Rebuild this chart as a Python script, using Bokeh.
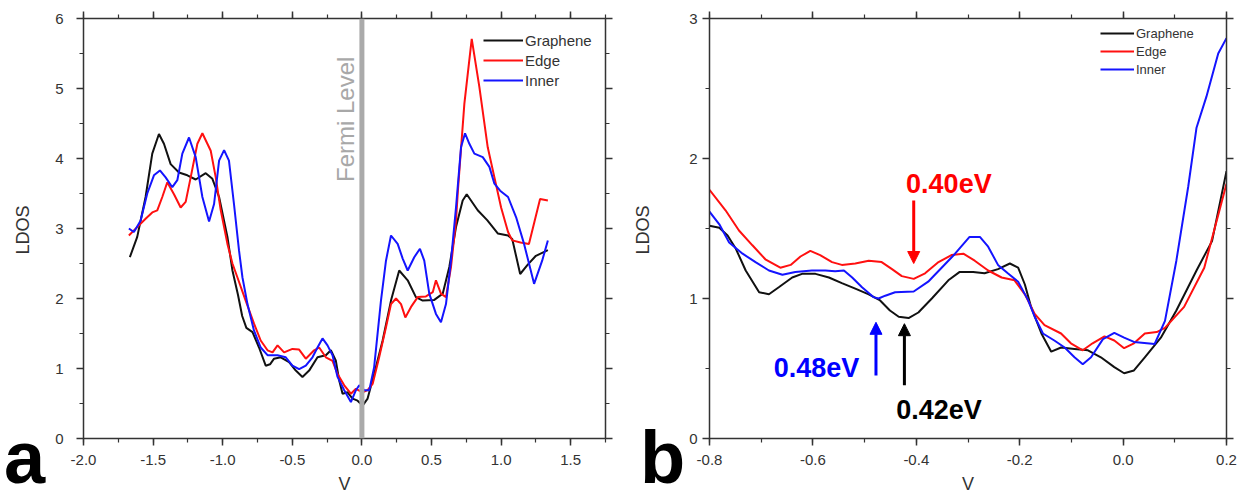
import math
from bokeh.plotting import figure
from bokeh.models import (Range1d, LinearAxis, SingleIntervalTicker, Span, Label, Div,
                          Arrow, NormalHead, Legend, LegendItem, NumeralTickFormatter,
                          CustomJSTickFormatter)
from bokeh.layouts import row
from bokeh.embed import file_html
from bokeh.resources import INLINE

# ---------------- data: panel a ----------------
graphene_a_x = [-1.667, -1.614, -1.554, -1.506, -1.458, -1.422, -1.374, -1.314, -1.254, -1.194,
                -1.122, -1.074, -1.026, -0.966, -0.93, -0.89, -0.86, -0.83, -0.786, -0.739,
                -0.691, -0.66, -0.631, -0.583, -0.523, -0.475, -0.427, -0.379, -0.319, -0.259,
                -0.223, -0.187, -0.163, -0.139, -0.103, -0.067, -0.031, 0.005, 0.041, 0.088,
                0.149, 0.209, 0.268, 0.329, 0.388, 0.437, 0.52, 0.581, 0.628, 0.676,
                0.724, 0.753, 0.832, 0.9, 0.976, 1.05, 1.08, 1.137, 1.19, 1.25, 1.336]
graphene_a_y = [2.59, 2.88, 3.45, 4.07, 4.35, 4.21, 3.92, 3.80, 3.76, 3.70,
                3.79, 3.71, 3.45, 2.88, 2.40, 2.05, 1.75, 1.58, 1.52, 1.30,
                1.04, 1.06, 1.14, 1.16, 1.09, 0.97, 0.88, 0.97, 1.16, 1.19,
                1.26, 1.11, 0.83, 0.64, 0.66, 0.57, 0.54, 0.47, 0.57, 0.92,
                1.40, 1.97, 2.40, 2.26, 2.02, 1.97, 1.98, 2.07, 2.45, 3.02,
                3.40, 3.49, 3.26, 3.12, 2.93, 2.90, 2.85, 2.35, 2.48, 2.61, 2.69]

edge_a_x = [-1.674, -1.614, -1.554, -1.506, -1.47, -1.434, -1.398, -1.35, -1.302, -1.266,
            -1.23, -1.182, -1.146, -1.086, -1.05, -1.014, -0.966, -0.93, -0.894, -0.835,
            -0.775, -0.727, -0.678, -0.642, -0.606, -0.559, -0.499, -0.451, -0.403, -0.343,
            -0.307, -0.259, -0.211, -0.175, -0.127, -0.079, -0.043, 0.005, 0.041, 0.077,
            0.124, 0.173, 0.209, 0.245, 0.281, 0.312, 0.353, 0.401, 0.46, 0.509,
            0.532, 0.568, 0.604, 0.64, 0.676, 0.69, 0.736, 0.789, 0.844, 0.904,
            0.952, 1.0, 1.05, 1.08, 1.14, 1.2, 1.24, 1.28, 1.336]
edge_a_y = [2.90, 3.02, 3.14, 3.23, 3.26, 3.45, 3.66, 3.49, 3.30, 3.38,
            3.73, 4.21, 4.36, 4.11, 3.73, 3.26, 2.78, 2.50, 2.30, 1.97,
            1.64, 1.40, 1.26, 1.23, 1.33, 1.23, 1.28, 1.27, 1.14, 1.26,
            1.30, 1.16, 1.11, 0.92, 0.76, 0.64, 0.71, 0.66, 0.69, 0.78,
            1.16, 1.59, 1.92, 2.00, 1.92, 1.73, 1.88, 2.02, 2.03, 2.09,
            2.26, 2.07, 2.02, 2.45, 3.11, 3.55, 4.78, 5.71, 5.02, 4.16,
            3.73, 3.30, 2.95, 2.83, 2.80, 2.78, 3.10, 3.42, 3.40]

inner_a_x = [-1.674, -1.638, -1.59, -1.542, -1.494, -1.451, -1.41, -1.362, -1.326, -1.29,
             -1.242, -1.194, -1.146, -1.098, -1.062, -1.026, -0.99, -0.955, -0.919, -0.883,
             -0.858, -0.822, -0.775, -0.727, -0.678, -0.606, -0.547, -0.499, -0.451, -0.403,
             -0.355, -0.319, -0.283, -0.247, -0.211, -0.175, -0.127, -0.079, -0.043, -0.019,
             0.017, 0.053, 0.088, 0.137, 0.173, 0.209, 0.257, 0.293, 0.329, 0.376,
             0.417, 0.448, 0.484, 0.532, 0.568, 0.604, 0.64, 0.676, 0.712, 0.741,
             0.772, 0.808, 0.868, 0.916, 0.952, 0.993, 1.05, 1.108, 1.165, 1.237, 1.295, 1.336]
inner_a_y = [3.00, 2.95, 3.11, 3.50, 3.76, 3.83, 3.73, 3.59, 3.69, 4.07,
             4.30, 4.02, 3.45, 3.10, 3.35, 3.97, 4.12, 3.97, 3.35, 2.69,
             2.30, 1.92, 1.54, 1.30, 1.19, 1.19, 1.16, 1.04, 0.99, 1.04,
             1.16, 1.30, 1.43, 1.33, 1.19, 0.88, 0.69, 0.52, 0.69, 0.76,
             0.69, 0.69, 1.02, 1.97, 2.54, 2.90, 2.78, 2.57, 2.40, 2.59,
             2.71, 2.54, 2.07, 1.78, 1.66, 1.92, 2.54, 3.30, 4.16, 4.36,
             4.21, 4.07, 4.02, 3.88, 3.64, 3.54, 3.45, 3.16, 2.78, 2.21, 2.54, 2.83]

# ---------------- data: panel b ----------------
graphene_b_x = [-0.8, -0.781, -0.765, -0.749, -0.73, -0.704, -0.685, -0.666, -0.64, -0.621,
                -0.595, -0.569, -0.544, -0.518, -0.492, -0.47, -0.451, -0.434, -0.415, -0.396,
                -0.37, -0.338, -0.316, -0.29, -0.268, -0.242, -0.219, -0.203, -0.19, -0.178,
                -0.158, -0.139, -0.12, -0.094, -0.068, -0.043, -0.017, 0.002, 0.021, 0.042,
                0.073, 0.103, 0.142, 0.172, 0.2]
graphene_b_y = [1.52, 1.505, 1.45, 1.355, 1.20, 1.045, 1.03, 1.08, 1.15, 1.176,
                1.176, 1.15, 1.11, 1.07, 1.03, 0.986, 0.914, 0.87, 0.86, 0.90,
                1.00, 1.13, 1.19, 1.19, 1.18, 1.21, 1.25, 1.22, 1.10, 0.94,
                0.75, 0.62, 0.65, 0.64, 0.63, 0.58, 0.51, 0.466, 0.486, 0.58,
                0.72, 0.914, 1.20, 1.41, 1.91]

edge_b_x = [-0.8, -0.769, -0.743, -0.717, -0.692, -0.663, -0.643, -0.624, -0.605, -0.586,
            -0.563, -0.544, -0.518, -0.492, -0.467, -0.447, -0.428, -0.405, -0.383, -0.357,
            -0.332, -0.309, -0.287, -0.261, -0.235, -0.21, -0.19, -0.171, -0.152, -0.12,
            -0.101, -0.078, -0.059, -0.036, -0.017, 0.002, 0.021, 0.042, 0.065, 0.081,
            0.118, 0.157, 0.2]
edge_b_y = [1.776, 1.63, 1.486, 1.38, 1.28, 1.22, 1.24, 1.30, 1.34, 1.31,
            1.26, 1.24, 1.25, 1.27, 1.26, 1.21, 1.16, 1.14, 1.18, 1.26,
            1.31, 1.32, 1.27, 1.20, 1.15, 1.13, 1.03, 0.89, 0.81, 0.75,
            0.68, 0.63, 0.68, 0.73, 0.70, 0.645, 0.68, 0.75, 0.76, 0.79,
            0.94, 1.22, 1.82]

inner_b_x = [-0.8, -0.781, -0.762, -0.736, -0.711, -0.685, -0.659, -0.634, -0.602, -0.576,
             -0.557, -0.54, -0.524, -0.505, -0.483, -0.473, -0.46, -0.441, -0.405, -0.377,
             -0.351, -0.325, -0.297, -0.277, -0.261, -0.242, -0.223, -0.203, -0.184, -0.171,
             -0.155, -0.133, -0.113, -0.094, -0.078, -0.062, -0.039, -0.017, 0.002, 0.021,
             0.061, 0.081, 0.103, 0.126, 0.142, 0.161, 0.184, 0.2]
inner_b_y = [1.62, 1.53, 1.40, 1.32, 1.26, 1.20, 1.17, 1.19, 1.20, 1.20,
             1.195, 1.20, 1.15, 1.08, 1.01, 1.00, 1.02, 1.045, 1.05, 1.12,
             1.22, 1.32, 1.44, 1.44, 1.37, 1.24, 1.18, 1.12, 0.99, 0.87,
             0.75, 0.70, 0.65, 0.58, 0.53, 0.58, 0.71, 0.755, 0.72, 0.69,
             0.675, 0.84, 1.27, 1.80, 2.22, 2.44, 2.75, 2.86]

series_names = ["Graphene", "Edge", "Inner"]
series_colors = ["#111111", "#ff1010", "#1414ff"]

# annotations for panel b
gap_labels = ["0.40eV", "0.48eV", "0.42eV"]
gap_arrow_x = [-0.405, -0.478, -0.423]
gap_arrow_y0 = [1.70, 0.45, 0.38]
gap_arrow_y1 = [1.25, 0.83, 0.82]
gap_text_x = [-0.337, -0.593, -0.356]
gap_text_y = [1.82, 0.504, 0.207]
gap_colors = ["#ff0000", "#0000ff", "#000000"]

FONT = "Liberation Sans"
DARK = "#333333"
H = 498


def style_axis(ax, ticker, labels=True, label_standoff=12, axis_label_standoff=10):
    ax.ticker = ticker
    ax.axis_line_color = DARK
    ax.axis_line_width = 1.5
    ax.major_tick_line_color = DARK
    ax.major_tick_line_width = 1.5
    ax.minor_tick_line_color = DARK
    ax.minor_tick_line_width = 1.2
    ax.major_tick_in = 0
    ax.major_tick_out = 7
    ax.minor_tick_in = 0
    ax.minor_tick_out = 4
    ax.major_label_text_font = FONT
    ax.major_label_text_font_size = "15px"
    ax.major_label_text_color = DARK
    ax.major_label_standoff = label_standoff
    ax.axis_label_text_font = FONT
    ax.axis_label_text_font_style = "normal"
    ax.axis_label_text_font_size = "18px"
    ax.axis_label_text_color = DARK
    ax.axis_label_standoff = axis_label_standoff
    if not labels:
        ax.formatter = CustomJSTickFormatter(code="return ''")
        ax.major_label_standoff = 0


def make_panel(xr, yr, width, border_left, border_right, xint, yint, ylab_standoff):
    p = figure(width=width, height=H, x_range=Range1d(*xr), y_range=Range1d(*yr),
               min_border_left=border_left, min_border_right=border_right,
               min_border_top=18, min_border_bottom=60,
               output_backend="svg", toolbar_location=None, x_axis_label="V")
    p.xgrid.visible = False
    p.ygrid.visible = False
    p.outline_line_color = None
    p.background_fill_color = "white"
    p.border_fill_color = "white"
    style_axis(p.xaxis[0], SingleIntervalTicker(interval=xint, num_minor_ticks=2),
               label_standoff=9, axis_label_standoff=6)
    p.xaxis[0].formatter = NumeralTickFormatter(format="0.0")
    style_axis(p.yaxis[0], SingleIntervalTicker(interval=yint, num_minor_ticks=2),
               label_standoff=ylab_standoff)
    top = LinearAxis()
    style_axis(top, SingleIntervalTicker(interval=xint, num_minor_ticks=2), labels=False)
    p.add_layout(top, "above")
    right = LinearAxis()
    style_axis(right, SingleIntervalTicker(interval=yint, num_minor_ticks=2), labels=False)
    p.add_layout(right, "right")
    return p


LETTER_PX = 74
LETTER_BASELINE = 482


def make_text_strip(width, ylabel_cx, letter, letter_left):
    # narrow strip holding the rotated y-axis title "LDOS" and the big panel letter
    letter_top = LETTER_BASELINE - round(0.905 * LETTER_PX)
    html = (
        f'<div style="position:relative;width:{width}px;height:{H}px;background:white;">'
        f'<div style="position:absolute;left:{ylabel_cx}px;top:230px;'
        f'transform:translate(-50%,-50%) rotate(-90deg);white-space:nowrap;'
        f"font-family:'{FONT}';font-size:18px;line-height:normal;color:{DARK};\">LDOS</div>"
        f'<div style="position:absolute;left:{letter_left}px;top:{letter_top}px;'
        f"font-family:'{FONT}';font-weight:bold;font-size:{LETTER_PX}px;line-height:normal;"
        f'color:#000000;">{letter}</div>'
        f'</div>'
    )
    return Div(text=html, width=width, height=H, margin=0)


# ---------------- panel a ----------------
s1 = make_text_strip(50, 23, "a", 4)
p1 = make_panel((-2.0, 1.75), (0, 6), 570, 33, 15, 0.5, 1, 13)
p1.add_layout(Span(location=0, dimension="height", line_color="#aaaaaa", line_width=5))
p1.add_layout(Label(x=0, y=4.56, x_offset=-16, angle=math.pi / 2, text="Fermi Level",
                    text_font=FONT, text_font_size="24px", text_color="#a8a8a8",
                    text_align="center", text_baseline="middle"))
rs1 = []
for xs, ys, c in zip([graphene_a_x, edge_a_x, inner_a_x], [graphene_a_y, edge_a_y, inner_a_y],
                     series_colors):
    rs1.append(p1.line(xs, ys, line_color=c, line_width=2))
leg1 = Legend(items=[LegendItem(label=n, renderers=[r]) for n, r in zip(series_names, rs1)],
              location=(400, 348), border_line_color=None, background_fill_alpha=0,
              label_text_font=FONT, label_text_font_size="15px", label_text_color=DARK,
              glyph_width=40, glyph_height=20, label_height=20, spacing=0, padding=4,
              margin=0, label_standoff=2)
p1.add_layout(leg1)

# ---------------- panel b ----------------
s2 = make_text_strip(66, 23, "b", 20)
p2 = make_panel((-0.8, 0.2), (0, 3), 558, 21, 18, 0.2, 1, 5)
rs2 = []
for xs, ys, c in zip([graphene_b_x, edge_b_x, inner_b_x], [graphene_b_y, edge_b_y, inner_b_y],
                     series_colors):
    rs2.append(p2.line(xs, ys, line_color=c, line_width=2))
leg2 = Legend(items=[LegendItem(label=n, renderers=[r]) for n, r in zip(series_names, rs2)],
              location=(391, 360), border_line_color=None, background_fill_alpha=0,
              label_text_font=FONT, label_text_font_size="13px", label_text_color=DARK,
              glyph_width=34, glyph_height=18, label_height=18, spacing=0, padding=4,
              margin=0, label_standoff=2)
p2.add_layout(leg2)
for t, ax, ay0, ay1, tx, ty, c in zip(gap_labels, gap_arrow_x, gap_arrow_y0, gap_arrow_y1,
                                      gap_text_x, gap_text_y, gap_colors):
    p2.add_layout(Arrow(end=NormalHead(size=12, fill_color=c, line_color=c),
                        x_start=ax, y_start=ay0, x_end=ax, y_end=ay1,
                        line_color=c, line_width=3))
    p2.add_layout(Label(x=tx, y=ty, text=t, text_font=FONT, text_font_size="27px",
                        text_font_style="bold", text_color=c, text_align="center",
                        text_baseline="middle"))

layout = row(s1, p1, s2, p2)
open("out.html", "w").write(file_html(layout, INLINE))
